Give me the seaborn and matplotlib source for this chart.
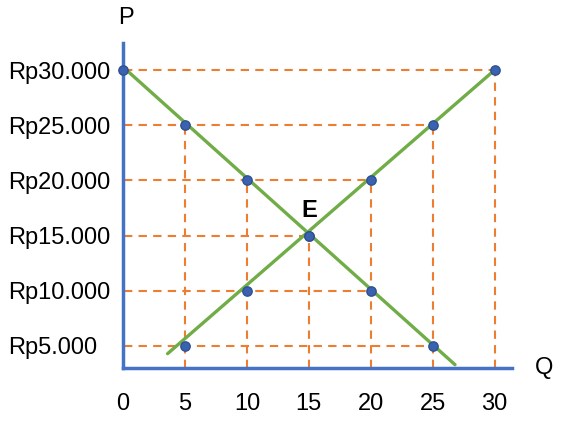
import matplotlib
matplotlib.use("Agg")
import matplotlib.pyplot as plt
import seaborn as sns
import pandas as pd

# data
quantity = [0, 5, 10, 15, 20, 25, 30]
price_ticks = [5000, 10000, 15000, 20000, 25000, 30000]
price_labels = ["Rp5.000", "Rp10.000", "Rp15.000", "Rp20.000", "Rp25.000", "Rp30.000"]

demand_q = [0, 5, 10, 15, 20, 25]
demand_p = [30000, 25000, 20000, 15000, 10000, 5000]
supply_q = [5, 10, 15, 20, 25, 30]
supply_p = [5000, 10000, 15000, 20000, 25000, 30000]

# where the drawn curves start and stop
demand_line_q = [0.08, 26.8]
demand_line_p = [30200, 3300]
supply_line_q = [3.6, 30]
supply_line_p = [4300, 30000]

# dashed guides: horizontal to the furthest point at each price, vertical from the highest point at each quantity
guide_h_p = [30000, 25000, 20000, 15000, 10000, 5000]
guide_h_q = [30, 25, 20, 15, 20, 25]
guide_v_q = [5, 10, 15, 20, 25, 30]
guide_v_p = [25000, 20000, 15000, 20000, 25000, 30000]

sns.set_style("white")
plt.rcParams["font.family"] = ["Liberation Sans", "DejaVu Sans"]
plt.rcParams["text.color"] = "black"
plt.rcParams["xtick.color"] = "black"
plt.rcParams["ytick.color"] = "black"

fig = plt.figure(figsize=(5.62, 4.21), dpi=100)
ax = fig.add_axes([123 / 562, 1 - 368 / 421, 389 / 562, 325 / 421])
ax.set_xlim(0.08, 31.4)
ax.set_ylim(3000, 32450)

orange = "#ED7D31"
ax.hlines(guide_h_p, 0.08, guide_h_q, colors=orange, linestyles=(0, (4, 3)), lw=1.5, zorder=1)
ax.vlines(guide_v_q, 3000, guide_v_p, colors=orange, linestyles=(0, (4, 3)), lw=1.5, zorder=1)

green = "#70AD47"
sns.lineplot(x=demand_line_q, y=demand_line_p, ax=ax, color=green, lw=2.4, zorder=2)
sns.lineplot(x=supply_line_q, y=supply_line_p, ax=ax, color=green, lw=2.4, zorder=2)

pts = pd.DataFrame({"Q": demand_q + supply_q, "P": demand_p + supply_p})
sns.scatterplot(data=pts, x="Q", y="P", ax=ax, s=45, color="#3A62B0",
                edgecolor="#2F528F", linewidth=1, zorder=3, clip_on=False)

for side in ["top", "right"]:
    ax.spines[side].set_visible(False)
for side in ["left", "bottom"]:
    ax.spines[side].set_color("#4472C4")
    ax.spines[side].set_linewidth(2.5)

ax.set_xticks(quantity)
ax.set_xticklabels([str(q) for q in quantity])
ax.set_yticks(price_ticks)
ax.set_yticklabels(price_labels, ha="left")
ax.tick_params(axis="x", length=0, pad=18, labelsize=17)
# left-aligned price labels starting near the left edge of the figure
ax.tick_params(axis="y", length=0, pad=83, labelsize=17)
ax.set_xlabel("")
ax.set_ylabel("")

ax.text(0.2, 34700, "P", fontsize=17, ha="center", va="center", clip_on=False)
ax.text(34.0, 3000, "Q", fontsize=17, ha="center", va="center", clip_on=False)
ax.text(15.0, 17300, "E", fontsize=17, fontweight="bold", ha="center", va="center")

fig.savefig("out.png", dpi=100)
